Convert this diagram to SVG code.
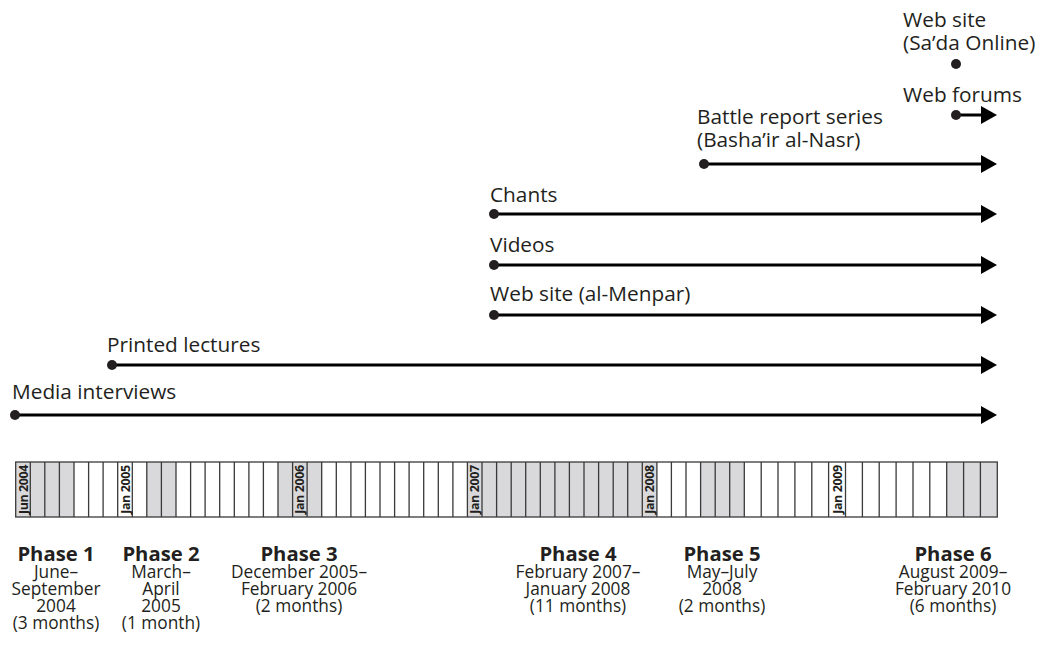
<svg xmlns="http://www.w3.org/2000/svg" width="1048" height="652" viewBox="0 0 1048 652">
<style>
  .lbl { font-family: "Open Sans", "Noto Sans", sans-serif; font-size: 20.8px; fill: #231f20; }
  .ph { font-family: "Open Sans", "Noto Sans", sans-serif; font-size: 20.3px; font-weight: bold; fill: #231f20; text-anchor: middle; }
  .pb { font-family: "Open Sans", "Noto Sans", sans-serif; font-size: 17.3px; fill: #231f20; text-anchor: middle; }
  .mo { font-family: "Open Sans", "Noto Sans", sans-serif; font-size: 12.5px; letter-spacing: -0.4px; font-weight: bold; fill: #231f20; text-anchor: middle; }
  .conn { stroke: #000; stroke-width: 3; fill: none; marker-start: url(#dot); marker-end: url(#arrow); }
  .gray { fill: #d9d9db; }
  .grid { stroke: #3a3a3a; stroke-width: 1.3; fill: none; }
</style>
<defs>
  <marker id="arrow" viewBox="0 0 16 18" refX="4" refY="9" markerWidth="16" markerHeight="18" markerUnits="userSpaceOnUse" orient="auto">
    <path d="M0,0 L16,9 L0,18 Z" fill="#000"/>
  </marker>
  <marker id="dot" viewBox="0 0 12 12" refX="6" refY="6" markerWidth="12" markerHeight="12" markerUnits="userSpaceOnUse" orient="auto">
    <circle cx="6" cy="6" r="5" fill="#231f20"/>
  </marker>
</defs>

<g id="node-website-sada">
  <text class="lbl" x="903" y="27">Web site</text>
  <text class="lbl" x="903" y="50">(Sa’da Online)</text>
</g>
<g id="node-web-forums"><text class="lbl" x="903" y="102">Web forums</text></g>
<g id="node-battle-report">
  <text class="lbl" x="697" y="124">Battle report series</text>
  <text class="lbl" x="697" y="147">(Basha’ir al-Nasr)</text>
</g>
<g id="node-chants"><text class="lbl" x="490" y="202">Chants</text></g>
<g id="node-videos"><text class="lbl" x="490" y="252">Videos</text></g>
<g id="node-website-menpar"><text class="lbl" x="490" y="301">Web site (al-Menpar)</text></g>
<g id="node-printed-lectures"><text class="lbl" x="107" y="352">Printed lectures</text></g>
<g id="node-media-interviews"><text class="lbl" x="12" y="399">Media interviews</text></g>

<g id="connectors">
  <circle cx="956" cy="64" r="5" fill="#231f20"/>
  <line class="conn" x1="956" y1="115" x2="985" y2="115"/>
  <line class="conn" x1="704" y1="164" x2="985" y2="164"/>
  <line class="conn" x1="494" y1="214" x2="985" y2="214"/>
  <line class="conn" x1="494" y1="265" x2="985" y2="265"/>
  <line class="conn" x1="494" y1="315" x2="985" y2="315"/>
  <line class="conn" x1="112" y1="365" x2="985" y2="365"/>
  <line class="conn" x1="15" y1="415" x2="985" y2="415"/>
</g>

<g id="timeline-bar">
  <rect x="15.7" y="462" width="981.6" height="55" fill="#fff"/>
  <rect class="gray" x="15.7" y="462" width="58.3" height="55"/>
  <rect class="gray" x="146.8" y="462" width="29.2" height="55"/>
  <rect class="gray" x="278.0" y="462" width="43.7" height="55"/>
  <rect class="gray" x="467.4" y="462" width="189.5" height="55"/>
  <rect class="gray" x="700.6" y="462" width="43.7" height="55"/>
  <rect class="gray" x="946.7" y="462" width="50.6" height="55"/>
  <path class="grid" d="M30.3 462V517M44.8 462V517M59.4 462V517M74.0 462V517M88.6 462V517M103.1 462V517M117.7 462V517M132.3 462V517M146.8 462V517M161.4 462V517M176.0 462V517M190.6 462V517M205.1 462V517M219.7 462V517M234.3 462V517M248.9 462V517M263.4 462V517M278.0 462V517M292.6 462V517M307.1 462V517M321.7 462V517M336.3 462V517M350.9 462V517M365.4 462V517M380.0 462V517M394.6 462V517M409.1 462V517M423.7 462V517M438.3 462V517M452.9 462V517M467.4 462V517M482.0 462V517M496.6 462V517M511.2 462V517M525.7 462V517M540.3 462V517M554.9 462V517M569.4 462V517M584.0 462V517M598.6 462V517M613.2 462V517M627.7 462V517M642.3 462V517M656.9 462V517M671.4 462V517M686.0 462V517M700.6 462V517M715.2 462V517M729.7 462V517M744.3 462V517M761.2 462V517M778.0 462V517M794.9 462V517M811.8 462V517M828.6 462V517M845.5 462V517M862.4 462V517M879.2 462V517M896.1 462V517M913.0 462V517M929.8 462V517M946.7 462V517M963.6 462V517M980.4 462V517"/>
  <rect class="grid" x="15.7" y="462" width="981.6" height="55"/>
  <text class="mo" transform="translate(23.0 489.5) rotate(-90)" dy="0.36em">Jun 2004</text>
  <text class="mo" transform="translate(125.0 489.5) rotate(-90)" dy="0.36em">Jan 2005</text>
  <text class="mo" transform="translate(299.9 489.5) rotate(-90)" dy="0.36em">Jan 2006</text>
  <text class="mo" transform="translate(474.7 489.5) rotate(-90)" dy="0.36em">Jan 2007</text>
  <text class="mo" transform="translate(649.6 489.5) rotate(-90)" dy="0.36em">Jan 2008</text>
  <text class="mo" transform="translate(837.1 489.5) rotate(-90)" dy="0.36em">Jan 2009</text>
</g>

<g id="phase-1">
  <text class="ph" x="56" y="561">Phase 1</text>
  <text class="pb" x="56" y="578">June–</text>
  <text class="pb" x="56" y="595">September</text>
  <text class="pb" x="56" y="612">2004</text>
  <text class="pb" x="56" y="629">(3 months)</text>
</g>
<g id="phase-2">
  <text class="ph" x="161" y="561">Phase 2</text>
  <text class="pb" x="161" y="578">March–</text>
  <text class="pb" x="161" y="595">April</text>
  <text class="pb" x="161" y="612">2005</text>
  <text class="pb" x="161" y="629">(1 month)</text>
</g>
<g id="phase-3">
  <text class="ph" x="299" y="561">Phase 3</text>
  <text class="pb" x="299" y="578">December 2005–</text>
  <text class="pb" x="299" y="595">February 2006</text>
  <text class="pb" x="299" y="612">(2 months)</text>
</g>
<g id="phase-4">
  <text class="ph" x="578" y="561">Phase 4</text>
  <text class="pb" x="578" y="578">February 2007–</text>
  <text class="pb" x="578" y="595">January 2008</text>
  <text class="pb" x="578" y="612">(11 months)</text>
</g>
<g id="phase-5">
  <text class="ph" x="722" y="561">Phase 5</text>
  <text class="pb" x="722" y="578">May–July</text>
  <text class="pb" x="722" y="595">2008</text>
  <text class="pb" x="722" y="612">(2 months)</text>
</g>
<g id="phase-6">
  <text class="ph" x="953" y="561">Phase 6</text>
  <text class="pb" x="953" y="578">August 2009–</text>
  <text class="pb" x="953" y="595">February 2010</text>
  <text class="pb" x="953" y="612">(6 months)</text>
</g>
</svg>
